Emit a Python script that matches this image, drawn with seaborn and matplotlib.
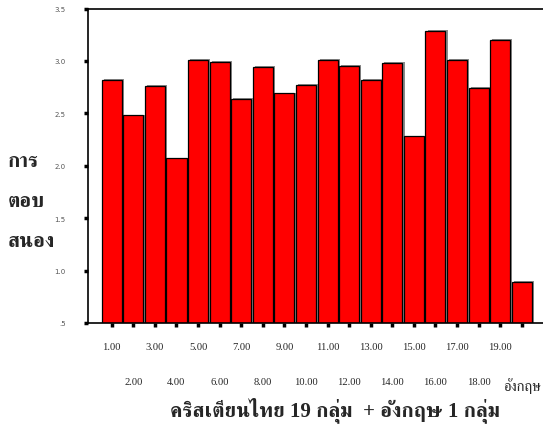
import matplotlib
matplotlib.use("Agg")
import matplotlib.pyplot as plt
import matplotlib.patheffects as pe
from matplotlib.ticker import FixedLocator
import seaborn as sns
import pandas as pd

groups = ["1.00", "2.00", "3.00", "4.00", "5.00", "6.00", "7.00", "8.00", "9.00", "10.00",
          "11.00", "12.00", "13.00", "14.00", "15.00", "16.00", "17.00", "18.00", "19.00", "อังกฤษ"]
means = [2.82, 2.48, 2.76, 2.07, 3.01, 2.99, 2.64, 2.94, 2.69, 2.77,
         3.01, 2.95, 2.82, 2.98, 2.28, 3.29, 3.01, 2.74, 3.20, 0.89]
ytick_vals = [0.5, 1.0, 1.5, 2.0, 2.5, 3.0, 3.5]
ytick_labels = [".5", "1.0", "1.5", "2.0", "2.5", "3.0", "3.5"]
ylabel_text = "การ\nตอบ\nสนอง"
xlabel_text = "คริสเตียนไทย 19 กลุ่ม  + อังกฤษ 1 กลุ่ม"

sns.set_theme(style="white")
plt.rcParams['font.family'] = ['Liberation Serif', 'FreeSerif']

df = pd.DataFrame({"group": groups, "mean": means})

fig = plt.figure(figsize=(5.43, 4.31), dpi=100)
ax_w = 1 - 88/543 + 0.01
ax = fig.add_axes([88/543, 1-324/431, ax_w, (324-9.5)/431])

sns.barplot(data=df, x="group", y="mean", order=groups, color="#ff0000",
            saturation=1, width=0.93, edgecolor="black", linewidth=0.9, ax=ax)
for p in ax.patches:
    p.set_path_effects([pe.SimplePatchShadow(offset=(1.6, 0.6), shadow_rgbFace="#7f7f7f", alpha=0.9),
                        pe.Normal()])

x_left = -1.10
ax.set_xlim(x_left, x_left + ax_w * 543 / 21.58)
ax.set_ylim(0.5, 3.5)
for s in ["left", "top", "bottom"]:
    ax.spines[s].set_color("black")
    ax.spines[s].set_linewidth(1.2)
ax.spines["right"].set_visible(False)

ax.set_yticks(ytick_vals)
ax.set_yticklabels(ytick_labels, fontsize=5, color="#555555", family="DejaVu Sans")
ax.tick_params(axis="y", which="major", direction="out", length=3, width=2.5,
               color="black", pad=13, left=True)

pos = list(range(len(groups)))
ax.xaxis.set_major_locator(FixedLocator(pos[0::2]))
ax.set_xticklabels(groups[0::2], fontsize=7.6)
ax.xaxis.set_minor_locator(FixedLocator(pos[1::2]))
ax.set_xticklabels(groups[1::2], minor=True, fontsize=7.6)
ax.tick_params(axis="x", which="major", direction="out", length=3, width=2.5,
               color="black", pad=11, bottom=True)
ax.tick_params(axis="x", which="minor", direction="out", length=3, width=2.5,
               color="black", pad=36, bottom=True)
ax.xaxis.get_minorticklabels()[-1].set_fontsize(10.5)
ax.set_xlabel("")
ax.set_ylabel("")

fig.text(8/543, 1-202/431, ylabel_text, fontsize=15, fontweight="bold",
         family=["FreeSerif"], ha="left", va="center", linespacing=2.6)
fig.text(335/543, 1-410/431, xlabel_text, fontsize=15, fontweight="bold",
         family=["Liberation Serif", "FreeSerif"], ha="center", va="center")

fig.savefig("out.png", dpi=100)
